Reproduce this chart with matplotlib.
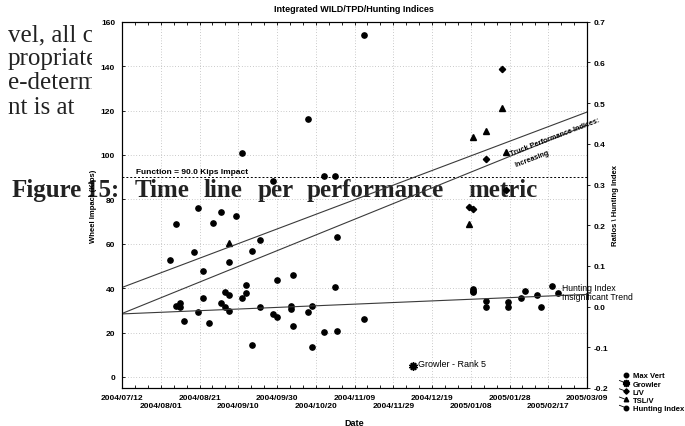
import numpy as np
import pandas as pd
import matplotlib
matplotlib.use("Agg")
import matplotlib.pyplot as plt
from matplotlib.lines import Line2D
from matplotlib.legend_handler import HandlerLine2D

plt.rcParams['font.family'] = 'Liberation Sans'

# -------------------------------------------------------------------------
#  Data
# -------------------------------------------------------------------------
max_vert_dates = [
    '2004-09-12', '2004-09-28', '2004-08-20', '2004-11-14', '2004-10-16', '2004-10-24', '2004-10-30',
    '2004-09-01', '2004-08-09', '2004-08-28', '2004-09-09', '2004-09-21', '2004-09-17', '2004-08-06',
    '2004-08-18', '2004-09-05', '2004-08-23', '2004-09-14', '2004-09-03', '2004-09-05', '2004-09-14',
    '2004-09-12', '2004-08-23', '2004-08-11', '2004-08-09', '2004-08-11', '2004-09-01', '2004-09-03',
    '2004-09-05', '2004-08-20', '2004-09-21', '2004-09-28', '2004-08-13', '2004-08-26', '2004-09-17',
    '2004-10-31', '2004-09-30', '2004-10-08', '2004-10-30', '2004-10-07', '2004-10-07', '2004-10-18',
    '2004-10-16', '2004-09-30', '2004-11-14', '2004-10-08', '2004-10-24', '2004-10-31', '2004-10-18',
]
max_vert_kips = [
    101, 88.4, 76, 154, 116, 90.6, 90.6,
    74.4, 68.7, 69.2, 72.3, 61.7, 56.6, 52.7,
    56.1, 51.6, 47.7, 41.5, 38.4, 36.9, 37.8,
    35.7, 35.4, 33.4, 31.9, 31.4, 33.2, 31.6,
    29.8, 29.4, 31.6, 28.3, 25.2, 24.3, 14.4,
    63.0, 43.5, 46.0, 40.4, 31.8, 30.6, 31.9,
    29.4, 27.1, 26.1, 22.8, 20.4, 20.8, 13.3,
]

hunting_dates = ['2005-01-09', '2005-01-09', '2005-01-09', '2005-01-16', '2005-01-16', '2005-01-27',
                 '2005-01-27', '2005-02-03', '2005-02-05', '2005-02-11', '2005-02-13', '2005-02-19',
                 '2005-02-22']
hunting_index = [0.043, 0.039, 0.035, 0.013, 0.000, 0.011, 0.000, 0.022, 0.038, 0.028, 0.000, 0.051, 0.033]

lv_dates = ['2005-01-24', '2005-01-16', '2005-01-26', '2005-01-07', '2005-01-09']
lv_ratio = [0.584, 0.363, 0.286, 0.244, 0.240]

tslv_dates = ['2005-01-24', '2005-01-16', '2005-01-09', '2005-01-26', '2005-01-07', '2004-09-05']
tslv_ratio = [0.487, 0.432, 0.417, 0.379, 0.203, 0.157]

growler_dates = ['2004-12-09']
growler_ratio = [-0.145]

trend_dates = ['2004-07-12', '2005-03-09']
truck_upper = [0.047, 0.478]
truck_lower = [-0.017, 0.446]
hunting_trend = [-0.018, 0.030]
function_kips = 90.0

tick_dates = pd.date_range('2004-07-12', '2005-03-09', freq='20D')
left_ticks = np.arange(0, 161, 20)
right_ticks = np.round(np.arange(-0.2, 0.71, 0.1), 1)

body_lines = ['vel, all c', 'propriate', 'e-determ', 'nt is at']
caption_words = ['Figure', '15:', 'Time', 'line', 'per', 'performance', 'metric']

# -------------------------------------------------------------------------
#  Figure
# -------------------------------------------------------------------------
W, H = 685, 427
fig = plt.figure(figsize=(W / 100, H / 100), dpi=100)
fig.patch.set_facecolor('white')

# document text that the chart sits on (cut off at the chart's left edge)
tax = fig.add_axes([-10 / W, 1 - 130 / H, 102 / W, 128 / H], zorder=-2)
tax.axis('off')
for i, line in enumerate(body_lines):
    tax.text(8 / W, 1 - (41 + 24.2 * i) / H, line, transform=fig.transFigure,
             family='Liberation Serif', fontsize=18, color='#222222', va='baseline', clip_on=True)
cap_x = [12, 86, 135, 203, 258, 307, 468]
for word, xp in zip(caption_words, cap_x):
    fig.text(xp / W, 1 - 197 / H, word, family='Liberation Serif', fontweight='bold',
             fontsize=18, color='#222222', va='baseline', zorder=-2)

ax = fig.add_axes([122 / W, 1 - 389 / H, 465 / W, 366.3 / H])
ax.patch.set_alpha(0)
ax2 = ax.twinx()

xd = lambda s: pd.to_datetime(s)

ax.set_xlim(xd(trend_dates[0]), xd(trend_dates[-1]))
ax.set_ylim(-5, 160)
ax2.set_ylim(-0.2, 0.7)

grid_style = dict(color='#9a9a9a', lw=0.5, ls=(0, (1, 3)))
ax.grid(True, **grid_style)
ax.set_axisbelow(True)

# markers
h_mv, = ax.plot(xd(max_vert_dates), max_vert_kips, 'o', color='k', ms=3.8, ls='none')
h_gr, = ax2.plot(xd(growler_dates), growler_ratio, marker=(10, 1, 0), color='k', ms=6, ls='none')
h_lv, = ax2.plot(xd(lv_dates), lv_ratio, 'D', color='k', ms=3.2, ls='none')
h_ts, = ax2.plot(xd(tslv_dates), tslv_ratio, '^', color='k', ms=3.8, ls='none')
h_hi, = ax2.plot(xd(hunting_dates), hunting_index, 'o', color='k', ms=3.8, ls='none')

# trend lines and limit
ax2.plot(xd(trend_dates), truck_upper, color='#3a3a3a', lw=0.8)
ax2.plot(xd(trend_dates), truck_lower, color='#3a3a3a', lw=0.8)
ax2.plot(xd(trend_dates), hunting_trend, color='#3a3a3a', lw=0.8)
ax.axhline(function_kips, color='k', lw=0.7, ls=(0, (2, 2)))

small = dict(fontsize=6, fontweight='bold')
ax.text(xd('2004-07-19'), function_kips + 0.8, 'Function = 90.0 Kips Impact', va='bottom', **small)
ax2.text(xd('2004-12-12'), growler_ratio[0] + 0.006, 'Growler - Rank 5', va='center', fontsize=6.5)
ax2.text(xd('2005-02-24'), 0.035, 'Hunting Index\nInsignificant Trend', va='center',
         linespacing=1.0, fontsize=6.2, clip_on=False)
ax2.text(xd('2005-01-29'), 0.372, 'Truck Performance Indices:', rotation=21,
         rotation_mode='anchor', va='baseline', fontsize=5.2, fontweight='bold', clip_on=False)
ax2.text(xd('2005-01-31'), 0.344, 'Increasing', rotation=21,
         rotation_mode='anchor', va='baseline', fontsize=5.2, fontweight='bold')

# axes, ticks, labels
ax.set_xticks(tick_dates)
ax.set_xticklabels([d.strftime('%Y/%m/%d') if i % 2 == 0 else '\n' + d.strftime('%Y/%m/%d')
                    for i, d in enumerate(tick_dates)], fontsize=6, fontweight='bold')
ax.set_xticks(pd.date_range('2004-07-12', '2005-03-09', periods=37), minor=True)
ax.set_yticks(left_ticks)
ax.set_yticklabels([str(v) for v in left_ticks], fontsize=6, fontweight='bold')
ax2.set_yticks(right_ticks)
ax2.set_yticklabels([f'{v:.1f}' for v in right_ticks], fontsize=6, fontweight='bold')
ax.tick_params(axis='x', which='both', direction='in', top=True, length=2, width=0.6, pad=4)
ax.tick_params(axis='y', direction='in', length=2, width=0.6, pad=5)
ax2.tick_params(axis='y', direction='out', length=2, width=0.6, pad=3)
for a in (ax, ax2):
    for s in a.spines.values():
        s.set_linewidth(0.8)

ax.set_ylabel('Wheel Impact (Kips)', fontsize=5.5, fontweight='bold')
ax.yaxis.set_label_coords(-0.054, 0.5)
ax2.set_ylabel('Ratios \\ Hunting Index', fontsize=5.5, fontweight='bold')
ax2.yaxis.set_label_coords(1.054, 0.5)
ax.set_xlabel('Date', fontsize=6.5, fontweight='bold')
ax.xaxis.set_label_coords(0.5, -0.082)
fig.text(354 / W, 1 - 10 / H, 'Integrated WILD/TPD/Hunting Indices', ha='center', va='center',
         fontsize=6.5, fontweight='bold')


# legend with the small leader strokes
class LeaderHandler(HandlerLine2D):
    def __init__(self, leader=True, **kw):
        super().__init__(**kw)
        self.leader = leader

    def create_artists(self, legend, orig_handle, xdescent, ydescent, width, height, fontsize, trans):
        xm = -xdescent + width * 0.75
        ym = -ydescent + height * 0.5
        arts = []
        if self.leader:
            arts.append(Line2D([xm - 0.7 * width, xm], [ym + 0.45 * height, ym], color='k', lw=0.6,
                               transform=trans))
        arts.append(Line2D([xm], [ym], marker=orig_handle.get_marker(), ls='none', color='k',
                           markersize=orig_handle.get_markersize() * 0.85, transform=trans))
        return arts


handles = [h_mv, h_gr, h_lv, h_ts, h_hi]
labels = ['Max Vert', 'Growler', 'L/V', 'TSL/V', 'Hunting Index']
hmap = {h: LeaderHandler(leader=(h is not h_mv)) for h in handles}
fig.legend(handles, labels, handler_map=hmap, loc='upper left', bbox_to_anchor=(619 / W, 1 - 373 / H),
           frameon=False, prop=dict(size=5.5, weight='bold'), handlelength=1.2, handletextpad=0.6,
           labelspacing=0.12, borderpad=0, borderaxespad=0)

fig.savefig('out.png', dpi=100)
